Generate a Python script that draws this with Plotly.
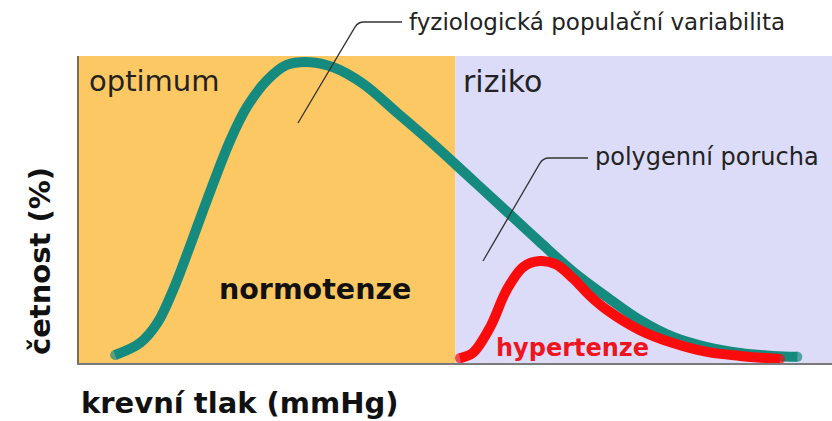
import plotly.graph_objects as go

# horizontal position along the pressure axis (0-100, split at 50)
pop_x = [4.8, 8.1, 10.4, 12.5, 14.7, 17.0, 20.1, 22.3, 25.0, 27.6, 30.7, 33.7,
         37.7, 42.2, 47.0, 51.5, 55.9, 61.2, 65.6, 70.1, 74.5, 78.9, 83.4,
         87.8, 92.2, 95.4]
# relative frequency of the whole population
pop_y = [2.6, 6.5, 13.0, 23.8, 37.8, 53.1, 72.6, 83.4, 92.2, 97.1, 98.0, 96.4,
         91.0, 81.6, 71.4, 61.3, 51.4, 39.4, 29.8, 21.5, 14.0, 8.5, 5.2,
         3.3, 2.3, 2.0]

# polygenic hypertension subgroup
hyp_x = [50.6, 52.3, 54.6, 56.8, 59.0, 61.2, 63.3, 65.6, 67.9, 70.1, 74.5,
         78.9, 83.4, 87.8, 93.1]
hyp_y = [1.6, 3.3, 11.7, 23.8, 31.3, 33.2, 32.2, 27.6, 21.8, 17.3, 10.7,
         6.5, 3.6, 2.3, 1.3]

zones = [(0, 50, "#fcc863"), (50, 100, "#dcdcf8")]

W, H = 832, 421
L, T, B = 79, 56, 58
FONT = "DejaVu Sans"


def px(x):
    return (x - L) / (W - L)


def py(y):
    return (H - B - y) / (H - B - T)


def cap_sizes(n, size):
    # round-ish line ends: markers only at the two endpoints
    return [size] + [0] * (n - 2) + [size]


fig = go.Figure()
fig.add_trace(go.Scatter(
    x=pop_x, y=pop_y, mode="lines+markers",
    line=dict(color="#158a7f", width=10, shape="spline", smoothing=1.0),
    marker=dict(size=cap_sizes(len(pop_x), 10), color="#158a7f", line=dict(width=0)),
    hoverinfo="skip", showlegend=False,
))
fig.add_trace(go.Scatter(
    x=hyp_x, y=hyp_y, mode="lines+markers",
    line=dict(color="#fb0c0c", width=10, shape="spline", smoothing=1.0),
    marker=dict(size=cap_sizes(len(hyp_x), 10), color="#fb0c0c", line=dict(width=0)),
    hoverinfo="skip", showlegend=False,
))

shapes = []
for x0, x1, col in zones:
    shapes.append(dict(type="rect", xref="x", yref="y", x0=x0, x1=x1, y0=0, y1=100,
                       fillcolor=col, line=dict(width=0), layer="below"))


# leader lines (drawn in pixel terms -> paper)
def leader(p0, corner, p1):
    r = 6
    cx, cy = corner
    dx, dy = cx - p0[0], cy - p0[1]
    d = (dx * dx + dy * dy) ** 0.5
    bx, by = cx - dx / d * r, cy - dy / d * r
    return (f"M {px(p0[0])},{py(p0[1])} L {px(bx)},{py(by)} "
            f"Q {px(cx)},{py(cy)} {px(cx + r)},{py(cy)} L {px(p1[0])},{py(p1[1])}")


shapes.append(dict(type="path", xref="paper", yref="paper",
                   path=leader((298, 123), (358, 22), (402, 22)),
                   line=dict(color="#333333", width=1.3)))
shapes.append(dict(type="path", xref="paper", yref="paper",
                   path=leader((483, 261), (543, 158), (588, 158)),
                   line=dict(color="#333333", width=1.3)))

annotations = [
    dict(text="fyziologická populační variabilita", x=px(407), y=py(22),
         size=23, color="#222222", bold=False),
    dict(text="optimum", x=px(87), y=py(81), size=29, color="#222222", bold=False),
    dict(text="riziko", x=px(461), y=py(81), size=30, color="#222222", bold=False),
    dict(text="polygenní porucha", x=px(593), y=py(157), size=24, color="#222222", bold=False),
    dict(text="normotenze", x=px(217), y=py(289), size=28.5, color="#111111", bold=True),
    dict(text="hypertenze", x=px(494), y=py(348), size=24, color="#f0141e", bold=True),
    dict(text="krevní tlak (mmHg)", x=px(79), y=py(403), size=29, color="#111111", bold=True),
]
ann_objs = []
for a in annotations:
    text = f"<b>{a['text']}</b>" if a["bold"] else a["text"]
    ann_objs.append(dict(text=text, xref="paper", yref="paper", x=a["x"], y=a["y"],
                         xanchor="left", yanchor="middle", showarrow=False,
                         font=dict(family=FONT, size=a["size"], color=a["color"])))
ann_objs.append(dict(text="<b>četnost (%)</b>", xref="paper", yref="paper",
                     x=px(40), y=py(261), xanchor="center", yanchor="middle",
                     textangle=-90, showarrow=False,
                     font=dict(family=FONT, size=29, color="#111111")))

fig.update_layout(
    width=W, height=H,
    margin=dict(l=L, r=0, t=T, b=B),
    paper_bgcolor="white", plot_bgcolor="white",
    shapes=shapes, annotations=ann_objs,
    font=dict(family=FONT),
)
fig.update_xaxes(range=[0, 100], showgrid=False, zeroline=False, showticklabels=False,
                 ticks="", showline=True, linecolor="#7a7a7a", linewidth=2)
fig.update_yaxes(range=[0, 100], showgrid=False, zeroline=False, showticklabels=False,
                 ticks="", showline=True, linecolor="#7d6b5d", linewidth=2)

# drop the default 8px body margin so the figure fills the window
fig.write_html("out.html", config={"displayModeBar": False},
               post_script="document.body.style.margin='0';")
